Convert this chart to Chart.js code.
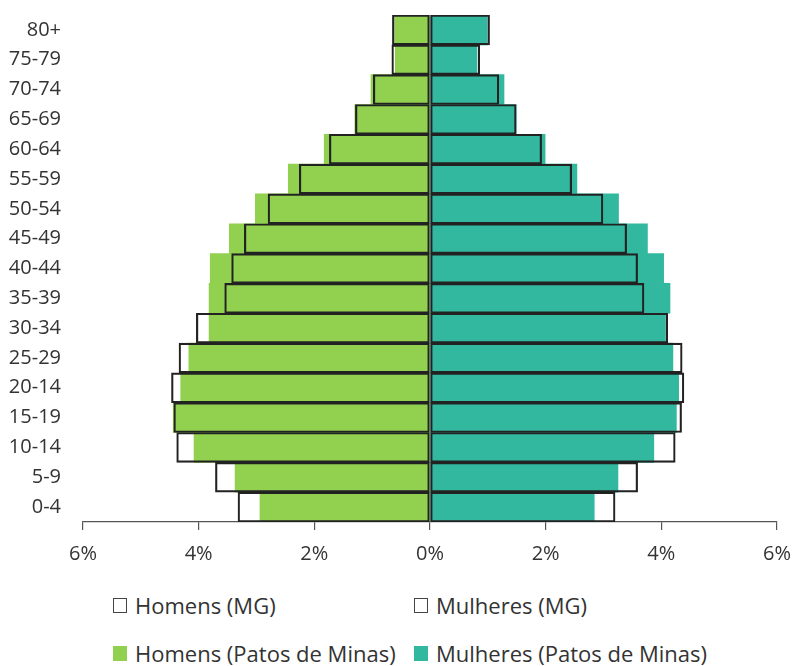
<!DOCTYPE html>
<html>
<head>
<meta charset="utf-8">
<script src="https://cdn.jsdelivr.net/npm/chart.js@4"></script>
<style>
  html, body { margin: 0; padding: 0; background: #fff; }
  #wrap { position: relative; width: 792px; height: 666px; }
  #box { position: absolute; left: 0; top: 0; width: 792px; height: 582px; }
  #legend { position: absolute; left: 113px; top: 590px; width: 660px;
    font-family: "Open Sans", sans-serif; font-size: 22px; color: #333; }
  .item { position: absolute; display: flex; align-items: center; white-space: nowrap; }
  .sw { width: 14px; height: 15px; margin-right: 8px; box-sizing: border-box; }
</style>
</head>
<body>
<div id="wrap">
  <div id="box"><canvas id="chart"></canvas></div>
  <div id="legend"></div>
</div>
<script>
// faixas etarias, de baixo (0-4) para cima (80+)
var ages = ['0-4', '5-9', '10-14', '15-19', '20-14', '25-29', '30-34', '35-39', '40-44',
            '45-49', '50-54', '55-59', '60-64', '65-69', '70-74', '75-79', '80+'];

// % da populacao total
var menMG       = [3.32, 3.71, 4.38, 4.43, 4.47, 4.34, 4.04, 3.55, 3.43, 3.21, 2.80, 2.26, 1.74, 1.29, 0.98, 0.66, 0.65];
var womenMG     = [3.20, 3.59, 4.24, 4.35, 4.39, 4.36, 4.11, 3.70, 3.59, 3.40, 2.99, 2.45, 1.93, 1.49, 1.19, 0.86, 1.03];
var menPatos    = [2.94, 3.37, 4.08, 4.44, 4.31, 4.17, 3.82, 3.82, 3.80, 3.47, 3.02, 2.45, 1.83, 1.30, 1.02, 0.60, 0.61];
var womenPatos  = [2.84, 3.25, 3.87, 4.26, 4.30, 4.20, 4.07, 4.15, 4.04, 3.76, 3.26, 2.54, 1.99, 1.49, 1.28, 0.81, 0.99];

var xTicks = [-6, -4, -2, 0, 2, 4, 6];

var green = '#92D050';
var teal = '#33B8A0';
var outline = '#222222';

function neg(arr) { return arr.map(function(v) { return -v; }); }

// first dataset is drawn on top, so outlines go first
var datasets = [
  { label: 'Homens (MG)', data: neg(menMG), backgroundColor: 'rgba(255,255,255,0)',
    borderColor: outline, borderWidth: 1.5, borderSkipped: false, legendFill: '#fff', legendBorder: '#444' },
  { label: 'Mulheres (MG)', data: womenMG, backgroundColor: 'rgba(255,255,255,0)',
    borderColor: outline, borderWidth: 1.5, borderSkipped: false, legendFill: '#fff', legendBorder: '#444' },
  { label: 'Homens (Patos de Minas)', data: neg(menPatos), backgroundColor: green,
    borderWidth: 0, legendFill: green, legendBorder: green },
  { label: 'Mulheres (Patos de Minas)', data: womenPatos, backgroundColor: teal,
    borderWidth: 0, legendFill: teal, legendBorder: teal }
];
datasets.forEach(function(d) {
  d.grouped = false;
  d.categoryPercentage = 1;
  d.barPercentage = 1;
});

var font = { family: '"Open Sans", sans-serif', size: 20 };

var chart = new Chart(document.getElementById('chart'), {
  type: 'bar',
  data: { labels: ages, datasets: datasets },
  options: {
    indexAxis: 'y',
    responsive: true,
    maintainAspectRatio: false,
    animation: false,
    layout: { padding: { top: 15, right: 15, bottom: 4, left: 0 } },
    plugins: { legend: { display: false }, tooltip: { enabled: false } },
    scales: {
      x: {
        min: -6, max: 6,
        afterBuildTicks: function(scale) {
          scale.ticks = xTicks.map(function(v) { return { value: v }; });
        },
        afterFit: function(scale) { scale.paddingLeft = 0; scale.paddingRight = 0; },
        ticks: {
          color: '#333', font: font, padding: 12,
          callback: function(v) { return Math.abs(v) + '%'; }
        },
        grid: { display: true, drawOnChartArea: false, drawTicks: true, tickLength: 8, color: '#555', lineWidth: 1.2 },
        border: { display: true, color: '#555', width: 1.2 }
      },
      y: {
        reverse: true,
        afterFit: function(scale) { scale.width = 83; scale.paddingTop = 0; scale.paddingBottom = 0; },
        ticks: { color: '#333', font: font, padding: 14 },
        grid: { display: false },
        border: { display: false }
      }
    }
  }
});

// legenda em duas colunas
var leg = document.getElementById('legend');
var pos = [[0, 0], [301, 0], [0, 48], [301, 48]];
datasets.forEach(function(d, i) {
  var el = document.createElement('div');
  el.className = 'item';
  el.style.left = pos[i][0] + 'px';
  el.style.top = pos[i][1] + 'px';
  el.innerHTML = '<span class="sw" style="background:' + d.legendFill + ';border:1.5px solid ' +
    d.legendBorder + '"></span><span>' + d.label + '</span>';
  leg.appendChild(el);
});
</script>
</body>
</html>
